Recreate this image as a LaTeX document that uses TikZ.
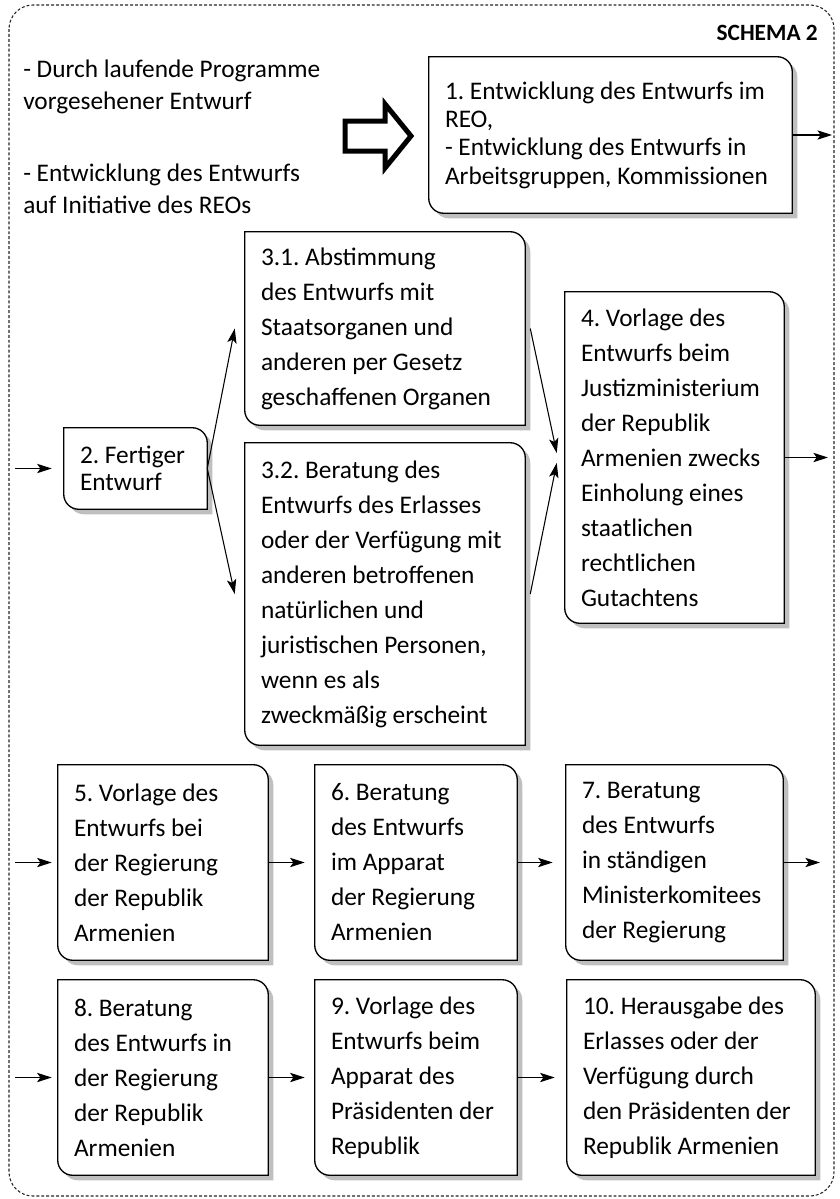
\documentclass[tikz,border=0pt]{standalone}
\usepackage{fontspec}
\setmainfont{Carlito}
\frenchspacing
\usetikzlibrary{arrows.meta,backgrounds}
\colorlet{shade}{black!25}
\newcommand\boxpath[3]{([shift={(#2,#3)}]#1.north west) -- ([shift={(#2-15,#3)}]#1.north east) arc[start angle=90,end angle=0,radius=15] -- ([shift={(#2,#3)}]#1.south east) -- ([shift={(#2+15,#3)}]#1.south west) arc[start angle=270,end angle=180,radius=15] -- cycle}
\tikzset{
  stepbox/.style={rectangle, inner sep=0pt, align=flush left, font=\fontsize{19pt}{26.25pt}\selectfont},
  boxline/.style={line width=1pt},
  boxshadow/.style={fill=shade},
  flow/.style={-{Stealth[length=11pt,width=7pt,inset=2.5pt]}, line width=0.8pt},
  frame/.style={dash pattern=on 2.2pt off 1.5pt, line width=0.8pt, draw=black!85, rounded corners=18pt},
}

\begin{document}
\begin{tikzpicture}[x=0.75pt,y=0.75pt]
\useasboundingbox (0,0) rectangle (839,-1199);
\draw[frame] (9,-5) rectangle (834,-1196);

\node[font=\bfseries\fontsize{17.5pt}{21pt}\selectfont, anchor=base east, inner sep=0pt] (title) at (818,-40) {SCHEMA 2};
\node[stepbox, font=\fontsize{19pt}{23.5pt}\selectfont, anchor=north west] (sources) at (23,-60) {- Durch laufende Programme\\vorgesehener Entwurf\\[31pt]- Entwicklung des Entwurfs\\auf Initiative des REOs};
\draw[line width=3.75pt] (345,-121) -- (385,-121) -- (385,-104) -- (411,-136) -- (385,-168) -- (385,-151) -- (345,-151) -- cycle;

\node[stepbox, font=\fontsize{19pt}{21.25pt}\selectfont, minimum width=272.25pt, minimum height=117pt, text width=248.25pt] (b1) at (610.5,-135) {1. Entwicklung des Entwurfs im\\REO,\\- Entwicklung des Entwurfs in\\Arbeitsgruppen, Kommissionen};
\node[stepbox, font=\fontsize{19pt}{20.25pt}\selectfont, minimum width=107.25pt, minimum height=60.75pt, text width=83.25pt] (b2) at (135.5,-468.5) {2. Fertiger\\Entwurf};
\node[stepbox, minimum width=210pt, minimum height=144.75pt, text width=186pt] (b31) at (385,-328.5) {3.1. Abstimmung\\des Entwurfs mit\\Staatsorganen und\\anderen per Gesetz\\geschaffenen Organen};
\node[stepbox, minimum width=210pt, minimum height=226.5pt, text width=186pt] (b32) at (385,-594) {3.2. Beratung des\\Entwurfs des Erlasses\\oder der Verfügung mit\\anderen betroffenen\\natürlichen und\\juristischen Personen,\\wenn es als\\zweckmäßig erscheint};
\node[stepbox, minimum width=164.25pt, minimum height=248.25pt, text width=140.25pt] (b4) at (674.5,-457.5) {4. Vorlage des\\Entwurfs beim\\Justizministerium\\der Republik\\Armenien zwecks\\Einholung eines\\staatlichen\\rechtlichen\\Gutachtens};

\node[stepbox, minimum width=157.5pt, minimum height=146.25pt, text width=133.5pt] (b5) at (163,-862.5) {5. Vorlage des\\Entwurfs bei\\der Regierung\\der Republik\\Armenien};
\node[stepbox, minimum width=151.5pt, minimum height=146.25pt, text width=127.5pt] (b6) at (416,-862.5) {6. Beratung\\des Entwurfs\\im Apparat\\der Regierung\\Armenien};
\node[stepbox, minimum width=162.75pt, minimum height=146.25pt, text width=138.75pt] (b7) at (674.5,-862.5) {7. Beratung\\des Entwurfs\\in ständigen\\Ministerkomitees\\der Regierung};

\node[stepbox, minimum width=157.5pt, minimum height=146.25pt, text width=133.5pt] (b8) at (163,-1077.5) {8. Beratung\\des Entwurfs in\\der Regierung\\der Republik\\Armenien};
\node[stepbox, minimum width=151.5pt, minimum height=146.25pt, text width=127.5pt] (b9) at (416,-1077.5) {9. Vorlage des\\Entwurfs beim\\Apparat des\\Präsidenten der\\Republik};
\node[stepbox, minimum width=186pt, minimum height=146.25pt, text width=162pt] (b10) at (691,-1077.5) {10. Herausgabe des\\Erlasses oder der\\Verfügung durch\\den Präsidenten der\\Republik Armenien};

\begin{scope}[on background layer]
\fill[white] (0,0) rectangle (839,-1199);
\foreach \n in {b1,b2,b31,b32,b4,b5,b6,b7,b8,b9,b10}{
  \fill[boxshadow] \boxpath{\n}{5}{-5};
  \fill[white] \boxpath{\n}{0}{0};
}
\end{scope}
\foreach \n in {b1,b2,b31,b32,b4,b5,b6,b7,b8,b9,b10}
  \draw[boxline] \boxpath{\n}{0}{0};

\coordinate (in2) at (15,-468.5);
\coordinate (in5) at (15,-862.5);
\coordinate (in8) at (15,-1077.5);
\coordinate (out1) at (832,-135);
\coordinate (out4) at (828,-457.5);
\coordinate (out7) at (820,-862.5);

\draw[flow] (b1.east) -- (out1);
\draw[flow] (in2) -- ([shift={(-12,0)}]b2.west);
\draw[flow] (b2.east) -- ([shift={(-10,0)}]b31.west);
\draw[flow] (b2.east) -- ([shift={(-10,0)}]b32.west);
\draw[flow] ([shift={(5,0)}]b31.east) -- ([shift={(-8,4.5)}]b4.west);
\draw[flow] ([shift={(5,0)}]b32.east) -- ([shift={(-8,-5.5)}]b4.west);
\draw[flow] (b4.east) -- (out4);
\draw[flow] (in5) -- ([shift={(-6,0)}]b5.west);
\draw[flow] (b5.east) -- ([shift={(-10,0)}]b6.west);
\draw[flow] (b6.east) -- ([shift={(-13,0)}]b7.west);
\draw[flow] (b7.east) -- (out7);
\draw[flow] (in8) -- ([shift={(-6,0)}]b8.west);
\draw[flow] (b8.east) -- ([shift={(-10,0)}]b9.west);
\draw[flow] (b9.east) -- ([shift={(-12,0)}]b10.west);
\end{tikzpicture}
\end{document}
